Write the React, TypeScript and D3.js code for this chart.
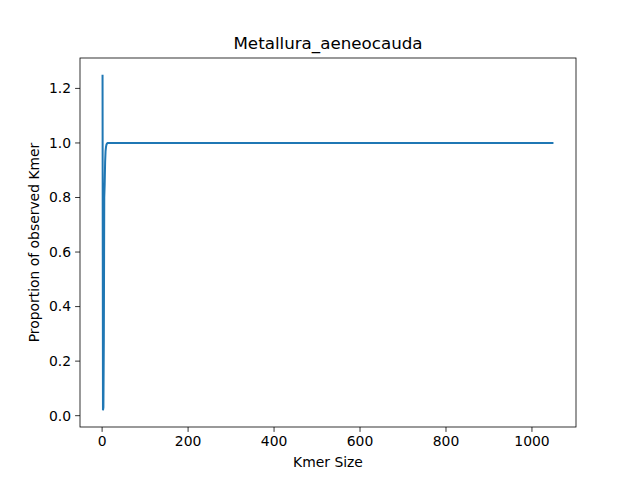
import React from 'react'
import * as d3 from 'd3'

const kmerSizes = [1, 2, 3, 4, 5, 6, 7, 8, 9, 10, 11, 12, 13, 15, 20, 50, 100, 200, 500, 1000, 1050]
const proportions = [1.25, 0.02, 0.03, 0.28, 0.8, 0.85, 0.93, 0.97, 0.985, 0.993, 0.997, 0.999, 1, 1, 1, 1, 1, 1, 1, 1, 1]
const xTicks = [0, 200, 400, 600, 800, 1000]
const yTicks = [0, 0.2, 0.4, 0.6, 0.8, 1.0, 1.2]

const W = 640
const H = 480
const L = 80
const R = 576
const T = 58
const B = 427

const App = () => {
	const x = d3.scaleLinear().domain([-51.45, 1102.45]).range([L, R])
	const y = d3.scaleLinear().domain([-0.0415, 1.3115]).range([B, T])
	const line = d3
		.line<number>()
		.x((_, i) => x(kmerSizes[i]))
		.y((d) => y(d))
	const font = 'DejaVu Sans, sans-serif'

	return (
		<svg
			width={W}
			height={H}
			style={{ position: 'absolute', left: 0, top: 0, background: '#fff' }}
			fontFamily={font}
		>
			<path d={line(proportions) || ''} fill="none" stroke="#1f77b4" strokeWidth={2} />
			<rect x={L} y={T} width={R - L} height={B - T} fill="none" stroke="#000" strokeWidth={0.8} />
			{xTicks.map((t) => (
				<g key={t} transform={`translate(${x(t)},${B})`}>
					<line y2={4.9} stroke="#000" strokeWidth={0.8} />
					<text y={19} textAnchor="middle" fontSize={13.9}>
						{t}
					</text>
				</g>
			))}
			{yTicks.map((t) => (
				<g key={t} transform={`translate(${L},${y(t)})`}>
					<line x2={-4.9} stroke="#000" strokeWidth={0.8} />
					<text x={-9} dy="0.35em" textAnchor="end" fontSize={13.9}>
						{t.toFixed(1)}
					</text>
				</g>
			))}
			<text x={(L + R) / 2} y={467} textAnchor="middle" fontSize={13.9}>
				Kmer Size
			</text>
			<text
				transform={`translate(39,${(T + B) / 2}) rotate(-90)`}
				textAnchor="middle"
				fontSize={13.9}
			>
				Proportion of observed Kmer
			</text>
			<text x={(L + R) / 2} y={49} textAnchor="middle" fontSize={16.7}>
				Metallura_aeneocauda
			</text>
		</svg>
	)
}

export default App
